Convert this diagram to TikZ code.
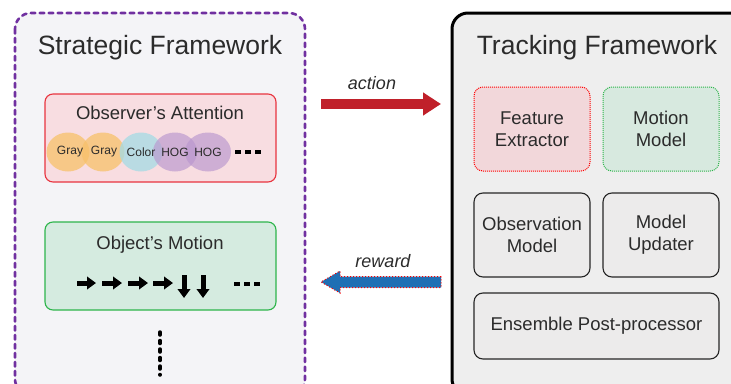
\documentclass[tikz,border=0pt]{standalone}
\usepackage{fontspec}
\setmainfont{Liberation Sans}
\usetikzlibrary{arrows.meta,calc}
\definecolor{stratfill}{HTML}{F4F4F7}
\definecolor{stratborder}{HTML}{7030A0}
\definecolor{attfill}{HTML}{F8DDE1}
\definecolor{attborder}{HTML}{E8343F}
\definecolor{motfill}{HTML}{D5EBE0}
\definecolor{motborder}{HTML}{2DB54B}
\definecolor{grayell}{HTML}{F7C16A}
\definecolor{colorell}{HTML}{A4DBE5}
\definecolor{hogell}{HTML}{B996CE}
\definecolor{actred}{HTML}{C0202A}
\definecolor{rewblue}{HTML}{1F6FB4}
\definecolor{trackfill}{HTML}{EEEEEE}
\definecolor{fefill}{HTML}{F2D7DA}
\definecolor{mmfill}{HTML}{D7E9DF}
\definecolor{modfill}{HTML}{ECEBEB}
\definecolor{txt}{HTML}{2B2B2B}
\tikzset{
  bigtitle/.style={font=\fontsize{26.5}{30}\selectfont, text=txt, inner sep=0},
  subtitle/.style={font=\fontsize{18.5}{22}\selectfont, text=txt, inner sep=0},
  modbox/.style={rounded corners=9pt, font=\fontsize{18.5}{22}\selectfont, text=txt, align=center},
  plainmod/.style={modbox, draw=black!85, line width=1.1pt, fill=modfill},
  elltext/.style={font=\fontsize{12}{14}\selectfont, text=txt},
  motarrow/.style={line width=5pt, -{Triangle[length=9pt,width=12.5pt]}},
  dots/.style={line width=3.5pt, dash pattern=on 6pt off 4pt},
}
\begin{document}
\begin{tikzpicture}[x=1pt,y=-1pt]
\useasboundingbox (0,0) rectangle (731,383);
\clip (0,0) rectangle (731,383);
% Strategic framework
\draw[stratborder, fill=stratfill, line width=2.6pt, dash pattern=on 4.5pt off 4.5pt, line cap=round, rounded corners=16pt] (15,13) rectangle (305,395);
\node[bigtitle] (st) at (160,48) {Strategic Framework};
% Observer's attention
\draw[attborder, fill=attfill, line width=1.1pt, rounded corners=8pt] (45,94) rectangle (276,182);
\node[subtitle] (oa) at (160,113) {Observer’s Attention};
\fill[grayell, fill opacity=0.75] (68,152) ellipse [x radius=21.5, y radius=19.5];
\fill[grayell, fill opacity=0.75] (103,152) ellipse [x radius=21.5, y radius=19.5];
\fill[colorell, fill opacity=0.75] (141,152) ellipse [x radius=21.5, y radius=19.5];
\fill[hogell, fill opacity=0.65] (175,152) ellipse [x radius=22, y radius=19.5];
\fill[hogell, fill opacity=0.65] (208,152) ellipse [x radius=23, y radius=19.5];
\node[elltext] (g1) at (70,152) {Gray};
\node[elltext] (g2) at (104,152) {Gray};
\node[elltext] (c1) at (141,152) {Color};
\node[elltext] (h1) at (175,152) {HOG};
\node[elltext] (h2) at (208,152) {HOG};
\coordinate (ad1) at (235,152); \coordinate (ad2) at (261,152);
\draw[dots] (ad1) -- (ad2);
% Object's motion
\draw[motborder, fill=motfill, line width=1.1pt, rounded corners=8pt] (45,222) rectangle (276,310);
\node[subtitle] (om) at (160,245) {Object’s Motion};
\coordinate (m1a) at (77,283); \coordinate (m1b) at (96,283);
\coordinate (m2a) at (102,283); \coordinate (m2b) at (122,283);
\coordinate (m3a) at (128,283); \coordinate (m3b) at (148,283);
\coordinate (m4a) at (153,283); \coordinate (m4b) at (173,283);
\coordinate (m5a) at (184,275); \coordinate (m5b) at (184,298);
\coordinate (m6a) at (203,275); \coordinate (m6b) at (203,298);
\foreach \s/\e in {m1a/m1b,m2a/m2b,m3a/m3b,m4a/m4b,m5a/m5b,m6a/m6b} \draw[motarrow] (\s) -- (\e);
\coordinate (md1) at (234,284); \coordinate (md2) at (260,284);
\draw[dots] (md1) -- (md2);
\coordinate (vd1) at (160,332); \coordinate (vd2) at (160,375);
\draw[line width=3.5pt, dash pattern=on 3pt off 5.5pt, line cap=round] (vd1) -- (vd2);
% Tracking framework
\draw[black, fill=trackfill, line width=3pt, rounded corners=16pt] (452,13) rectangle (760,395);
\node[bigtitle] (tt) at (597,48) {Tracking Framework};
\node[modbox, draw=red, densely dotted, line width=1pt, fill=fefill, minimum width=116pt, minimum height=84pt] (fe) at (532,129) {Feature\\Extractor};
\node[modbox, draw=motborder, densely dotted, line width=1pt, fill=mmfill, minimum width=116pt, minimum height=84pt] (mm) at (661,129) {Motion\\Model};
\node[plainmod, minimum width=116pt, minimum height=84pt] (ob) at (532,235) {Observation\\Model};
\node[plainmod, minimum width=116pt, minimum height=84pt] (mu) at (661,235) {Model\\Updater};
\node[plainmod, minimum width=245pt, minimum height=66pt] (ep) at (596.5,326) {Ensemble Post-processor};
% action arrow
\coordinate (as) at (321,104); \coordinate (ae) at (441,104);
\draw[actred, line width=10pt, -{Triangle[length=18pt,width=22pt]}] (as) -- (ae);
\node[font=\itshape\fontsize{18}{21}\selectfont, text=txt] (al) at (372,83) {action};
% reward arrow
\coordinate (rs) at (441,282); \coordinate (re) at (321,282);
\filldraw[fill=rewblue, draw=red, line width=1pt, dotted]
  ($(rs)+(0,-5.5)$) -- ($(re)+(19,-5.5)$) -- ($(re)+(19,-11)$) -- (re) -- ($(re)+(19,11)$) -- ($(re)+(19,5.5)$) -- ($(rs)+(0,5.5)$) -- cycle;
\node[font=\itshape\fontsize{18}{21}\selectfont, text=txt] (rl) at (383,261) {reward};
\end{tikzpicture}
\end{document}
